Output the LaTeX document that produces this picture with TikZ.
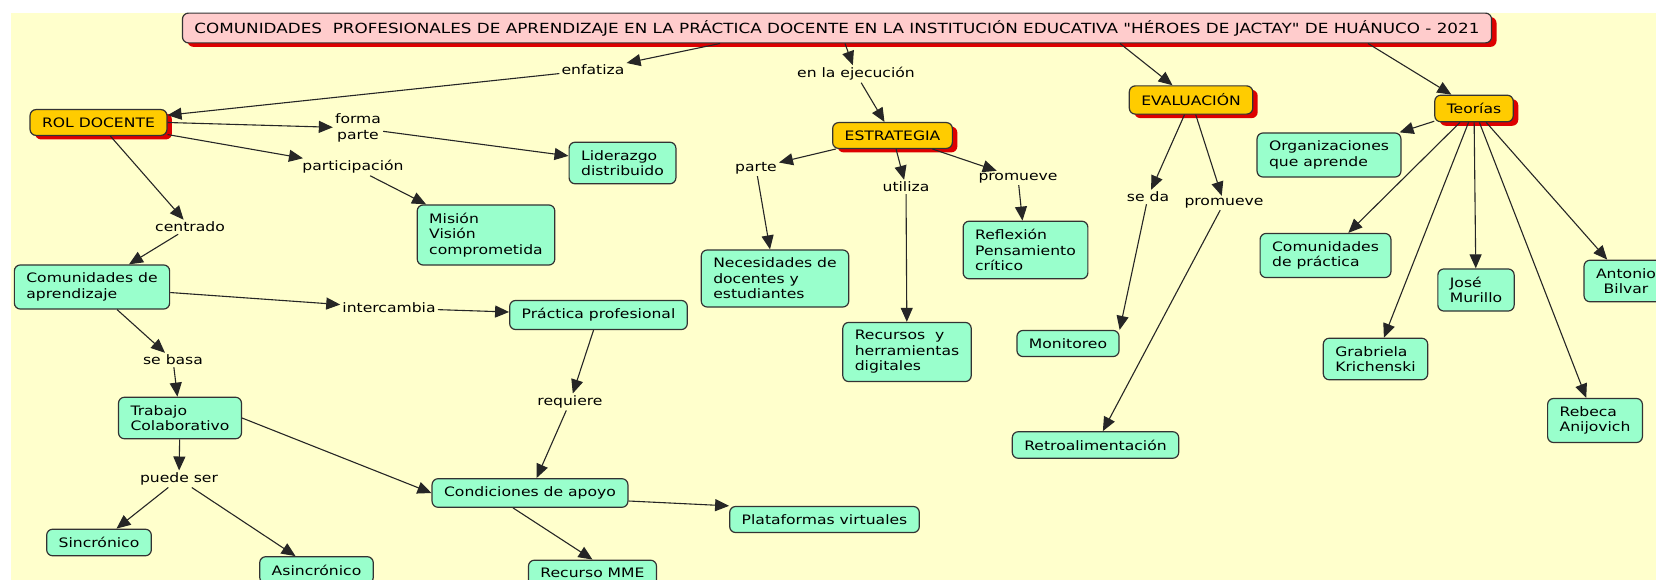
\documentclass[tikz,border=0pt]{standalone}
\usepackage{fontspec}
\setmainfont{DejaVu Sans}[FakeStretch=1.2]
\newfontfamily\plainfont{DejaVu Sans}[FakeStretch=1.2]
\usepackage{tikz}
\usetikzlibrary{arrows.meta, shadows}
\tikzset{>={Triangle[length=14pt,width=12pt]}}
\definecolor{mybg}{RGB}{255, 255, 204}
\definecolor{mymint}{RGB}{153, 255, 204}
\definecolor{myorange}{RGB}{255, 204, 0}
\definecolor{mypink}{RGB}{255, 204, 204}
\definecolor{myred}{RGB}{221, 0, 0}
\definecolor{myborder}{RGB}{51, 51, 51}
\tikzset{
  concept/.style = {draw = myborder, line width = 1.2pt, fill = mymint, rounded corners = 6pt,
    inner xsep = 12pt, inner ysep = 8pt, align = left},
  mainconcept/.style = {concept, fill = myorange,
    drop shadow = {shadow xshift = 5pt, shadow yshift = -4pt, fill = myred, opacity = 1}},
  linkword/.style = {inner sep = 2pt, align = center},
  link/.style = {->, line width = 1.1pt, draw = black!85}
}
\begin{document}
\begin{tikzpicture}[x = 1pt, y = -1pt, font = \fontsize{13}{15.5}\selectfont]
\useasboundingbox (0,0) rectangle (1656,580);
\clip (0,0) rectangle (1656,580);
\fill[white] (0,0) rectangle (1656,580);
\fill[mybg] (11,13) rectangle (1656,580);

\node[mainconcept, fill = mypink, inner ysep = 7pt, font = \fontsize{14}{17}\selectfont] (title) at (837,28) {COMUNIDADES\ \ PROFESIONALES DE APRENDIZAJE EN LA PRÁCTICA DOCENTE EN LA INSTITUCIÓN EDUCATIVA {\plainfont"}HÉROES DE JACTAY{\plainfont"} DE HUÁNUCO - 2021};
\node[mainconcept] (rol) at (98.5,122.5) {ROL DOCENTE};
\node[mainconcept] (estr) at (892.5,135.5) {ESTRATEGIA};
\node[mainconcept] (eval) at (1191,100) {EVALUACIÓN};
\node[mainconcept] (teor) at (1474,108.5) {Teorías};

\node[concept] (lid) at (622.5,163) {Liderazgo\\distribuido};
\node[concept] (mis) at (486,235) {Misión\\Visión\\comprometida};
\node[concept] (comap) at (92,287) {Comunidades de\\aprendizaje};
\node[concept] (prac) at (598.5,315) {Práctica profesional};
\node[concept] (trab) at (180,418) {Trabajo\\Colaborativo};
\node[concept] (sinc) at (99,542.5) {Sincrónico};
\node[concept] (asinc) at (316.5,570) {Asincrónico};
\node[concept] (cond) at (530,493) {Condiciones de apoyo};
\node[concept] (plat) at (824.5,519.5) {Plataformas virtuales};
\node[concept] (rmme) at (592.5,573) {Recurso MME};
\node[concept] (nec) at (775,278.5) {Necesidades de\\docentes y\\estudiantes};
\node[concept] (refl) at (1025.5,250) {Reflexión\\Pensamiento\\crítico};
\node[concept] (recu) at (907,352) {Recursos\ \ y\\herramientas\\digitales};
\node[concept] (moni) at (1068,343.5) {Monitoreo};
\node[concept] (retro) at (1095.5,445) {Retroalimentación};
\node[concept] (org) at (1329,155) {Organizaciones\\que aprende};
\node[concept] (comp) at (1325.5,255.5) {Comunidades\\de práctica};
\node[concept] (jose) at (1476,290) {José\\Murillo};
\node[concept, align = center] (anto) at (1626,281) {Antonio\\Bilvar};
\node[concept] (grab) at (1375.5,359) {Grabriela\\Krichenski};
\node[concept] (reb) at (1595,420.5) {Rebeca\\Anijovich};

\node[linkword] (enf) at (593,70) {enfatiza};
\node[linkword] (eje) at (856,74) {en la ejecución};
\node[linkword] (fp) at (358,128) {forma\\parte};
\node[linkword] (part) at (353,167) {participación};
\node[linkword] (cent) at (190,227) {centrado};
\node[linkword] (inter) at (389,308) {intercambia};
\node[linkword] (basa) at (173,360) {se basa};
\node[linkword] (req) at (570,402) {requiere};
\node[linkword] (pued) at (179,479) {puede ser};
\node[linkword] (parte) at (756,168) {parte};
\node[linkword] (util) at (906,187) {utiliza};
\node[linkword] (prom1) at (1018,178) {promueve};
\node[linkword] (seda) at (1148,197) {se da};
\node[linkword] (prom2) at (1224,203) {promueve};

\draw[link] ([xshift = -117pt]title.south) -- (enf);
\draw[link] (enf) -- (rol);
\draw[link] ([xshift = 8pt]title.south) -- (eje);
\draw[link] (eje) -- (estr);
\draw[link] ([xshift = 283pt]title.south) -- (eval);
\draw[link] ([xshift = 531pt]title.south) -- (teor);

\draw[link] (rol.east) -- (fp);
\draw[link] (fp) -- (lid);
\draw[link] (rol) -- (part);
\draw[link] (part) -- (mis);
\draw[link] (rol) -- (cent);
\draw[link] (cent) -- (comap);
\draw[link] (comap) -- (inter);
\draw[link] (inter) -- (prac);
\draw[link] (comap) -- (basa);
\draw[link] (basa) -- (trab);
\draw[link] (prac) -- (req);
\draw[link] (req) -- (cond);
\draw[link] (trab) -- (pued);
\draw[link] (pued) -- (sinc);
\draw[link] (pued) -- (asinc);
\draw[link] (trab.east) -- (cond.west);
\draw[link] ([yshift = -8pt]cond.east) -- (plat.north west);
\draw[link] ([xshift = -17pt]cond.south) -- (rmme.north);

\draw[link] (estr) -- (parte);
\draw[link] (parte) -- (nec);
\draw[link] (estr) -- (util);
\draw[link] (util) -- (recu);
\draw[link] (estr) -- (prom1);
\draw[link] (prom1) -- (refl);

\draw[link] (eval) -- (seda);
\draw[link] (seda) -- (moni.north east);
\draw[link] (eval) -- (prom2);
\draw[link] (prom2) -- (retro);

\draw[link] (teor) -- (org);
\draw[link] (teor) -- (comp);
\draw[link] (teor) -- (grab);
\draw[link] (teor) -- (jose);
\draw[link] (teor) -- (reb);
\draw[link] (teor) -- (anto);
\end{tikzpicture}
\end{document}
